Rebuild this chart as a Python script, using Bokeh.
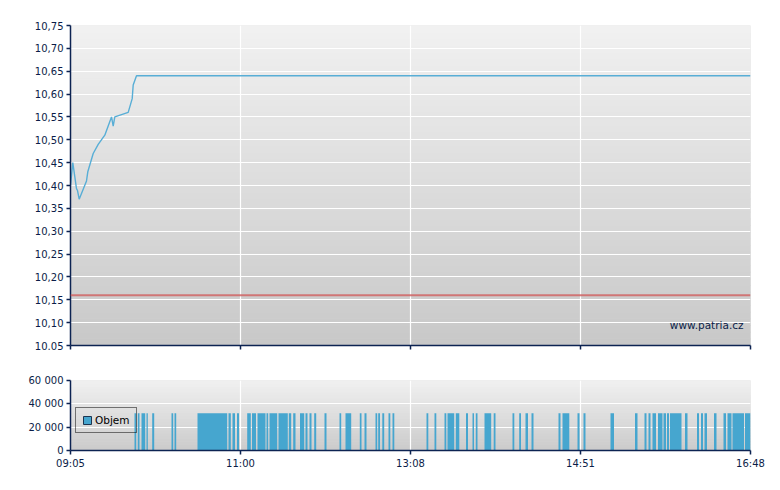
import numpy as np
from bokeh.plotting import figure
from bokeh.models import (FixedTicker, Span, Label, Legend, LegendItem,
                          ColumnDataSource, Range1d)
from bokeh.layouts import column
from bokeh.embed import file_html
from bokeh.resources import INLINE

# ---------------- data ----------------
# x axis: trading-slot position (evenly spaced time labels)
x_tick_pos = [0, 170, 340, 510, 680]
x_tick_labels = ["09:05", "11:00", "13:08", "14:51", "16:48"]

price_x = [0, 2.3, 6, 7, 8.7, 16, 17.3, 22.7, 27.7, 34.3, 41, 42.7, 44.3,
           57.7, 61.7, 62.7, 66, 680]
price_y = [10.40, 10.45, 10.393, 10.389, 10.37, 10.41, 10.43, 10.47, 10.49,
           10.51, 10.55, 10.53, 10.55, 10.56, 10.59, 10.62, 10.64, 10.64]
prev_close = 10.16

price_ticks = [10.05, 10.10, 10.15, 10.20, 10.25, 10.30, 10.35, 10.40,
               10.45, 10.50, 10.55, 10.60, 10.65, 10.70, 10.75]
price_tick_labels = ["10.05", "10,10", "10,15", "10,20", "10,25", "10,30",
                     "10,35", "10,40", "10,45", "10,50", "10,55", "10,60",
                     "10,65", "10,70", "10,75"]

vol_ticks = [0, 20000, 40000, 60000]
vol_tick_labels = ["0", "20 000", "40 000", "60 000"]

bar_start = [64, 67.3, 71, 76, 81.7, 101, 104, 127, 158, 162, 166.5, 176.7,
             181.5, 187, 196, 199, 208, 218.3, 222.7, 229.5, 235, 239,
             243.7, 254, 269, 275, 289.3, 294, 305, 307.7, 311.8, 318, 322,
             356, 364, 374, 377, 385.3, 395.5, 402, 405.3, 414, 423.2, 442,
             448.7, 455, 461, 488, 492, 507, 513, 540, 564.5, 574, 578, 582,
             587.5, 593, 596.5, 599.5, 614.5, 626.5, 630.5, 634, 643.5, 653,
             657, 662, 674.5]
bar_end = [65.7, 69, 74.7, 77.3, 83.7, 102.7, 105.7, 156.7, 160.3, 164.5,
           168.5, 180.3, 185.5, 195, 197.7, 206.7, 217.3, 220.7, 225, 233.7,
           237, 241, 245.7, 256, 270.7, 280.7, 291, 296, 306.7, 309.5, 313.7,
           319.8, 323.8, 357.8, 365.8, 375.8, 383.7, 388.8, 397.5, 403.5, 407,
           420.7, 425, 443.8, 450.5, 457.5, 463, 490, 498.8, 509, 515, 543.5,
           567, 576, 580, 585.5, 592, 595.5, 598.5, 611, 617, 628.5, 632.5,
           636.5, 646, 655.5, 661, 673.5, 680]
bar_vol = [32000, 32000, 32000, 32000, 32000, 32000, 32000, 32000, 32000, 32000,
           32000, 32000, 32000, 32000, 32000, 32000, 32000, 32000, 32000, 32000,
           32000, 32000, 32000, 32000, 32000, 32000, 32000, 32000, 32000, 32000,
           32000, 32000, 32000, 32000, 32000, 32000, 32000, 32000, 32000, 32000,
           32000, 32000, 32000, 32000, 32000, 32000, 32000, 32000, 32000, 32000,
           32000, 32000, 32000, 32000, 32000, 32000, 32000, 32000, 32000, 32000,
           32000, 32000, 32000, 32000, 32000, 32000, 32000, 32000, 32000]

# ---------------- style ----------------
FONT = "DejaVu Sans"
NAVY = "#0c2352"
TXT = "#0b1d48"
LINE_BLUE = "#58aed6"
BAR_BLUE = "#46a6cf"


def hexcol(c):
    return "#%02x%02x%02x" % tuple(int(round(v)) for v in c)


def gradient(p, x0, x1, y0, y1, c_top, c_bot, n=48):
    edges = np.linspace(y0, y1, n + 1)
    cols = []
    for i in range(n):
        t = (i + 0.5) / n  # 0 bottom -> 1 top
        cols.append(hexcol([c_bot[k] + (c_top[k] - c_bot[k]) * t for k in range(3)]))
    r = p.quad(left=x0, right=x1, bottom=edges[:-1], top=edges[1:],
               fill_color=cols, line_color=cols, line_width=1)
    r.level = "image"


def style_axis(ax):
    ax.axis_line_color = NAVY
    ax.axis_line_width = 1.5
    ax.major_tick_line_color = NAVY
    ax.major_tick_line_width = 1.5
    ax.major_tick_out = 4
    ax.major_tick_in = 0
    ax.minor_tick_line_color = None
    ax.major_label_text_font = FONT
    ax.major_label_text_font_size = "10px"
    ax.major_label_text_color = TXT
    ax.major_label_standoff = 3


# ---------------- price panel ----------------
x_range = Range1d(0, 680)
p1 = figure(frame_width=680, frame_height=320, x_range=x_range,
            y_range=Range1d(10.05, 10.75), output_backend="svg",
            toolbar_location=None, min_border_left=70, min_border_top=25,
            min_border_right=20, min_border_bottom=20)
p1.outline_line_color = None
p1.border_fill_color = "white"
p1.background_fill_color = "#dcdcdc"
gradient(p1, 0, 680, 10.05, 10.75, (241, 241, 241), (200, 200, 200))

p1.xaxis.ticker = FixedTicker(ticks=x_tick_pos)
p1.yaxis.ticker = FixedTicker(ticks=price_ticks)
p1.yaxis.major_label_overrides = dict(zip(price_ticks, price_tick_labels))
style_axis(p1.xaxis[0])
style_axis(p1.yaxis[0])
p1.xaxis.major_label_text_font_size = "0px"
p1.xaxis.major_label_text_alpha = 0
p1.xgrid.ticker = FixedTicker(ticks=x_tick_pos)
p1.ygrid.ticker = FixedTicker(ticks=price_ticks)
p1.grid.grid_line_color = "white"
p1.grid.grid_line_width = 1.2

p1.add_layout(Span(location=prev_close, dimension="width",
                   line_color="#d06565", line_width=2, line_alpha=0.85))
p1.line(price_x, price_y, line_color=LINE_BLUE, line_width=1.4)
p1.add_layout(Label(x=673, y=10.082, text="www.patria.cz", text_align="right",
                    text_baseline="bottom", text_font=FONT,
                    text_font_size="10.5px", text_color=TXT))

# ---------------- volume panel ----------------
p2 = figure(frame_width=680, frame_height=70, x_range=x_range,
            y_range=Range1d(0, 60000), output_backend="svg",
            toolbar_location=None, min_border_left=70, min_border_top=15,
            min_border_right=20, min_border_bottom=28)
p2.outline_line_color = None
p2.border_fill_color = "white"
p2.background_fill_color = "#dcdcdc"
gradient(p2, 0, 680, 0, 60000, (240, 240, 240), (203, 203, 203), n=24)

p2.xaxis.ticker = FixedTicker(ticks=x_tick_pos)
p2.xaxis.major_label_overrides = dict(zip(x_tick_pos, x_tick_labels))
p2.yaxis.ticker = FixedTicker(ticks=vol_ticks)
p2.yaxis.major_label_overrides = dict(zip(vol_ticks, vol_tick_labels))
style_axis(p2.xaxis[0])
style_axis(p2.yaxis[0])
p2.xgrid.ticker = FixedTicker(ticks=x_tick_pos)
p2.ygrid.ticker = FixedTicker(ticks=vol_ticks)
p2.grid.grid_line_color = "white"
p2.grid.grid_line_width = 1.2

vsrc = ColumnDataSource(dict(left=bar_start, right=bar_end,
                             top=bar_vol, bottom=[0] * len(bar_vol)))
p2.quad(left="left", right="right", top="top", bottom="bottom", source=vsrc,
        fill_color=BAR_BLUE, line_color=None)

# legend swatch: same data, outlined, not drawn in the plot itself
sw = p2.quad(left="left", right="right", top="top", bottom="bottom",
             source=vsrc, fill_color=BAR_BLUE, line_color="#1d3550",
             line_width=1)
sw.visible = False
legend = Legend(items=[LegendItem(label="Objem", renderers=[sw])],
                location=(5, 17), orientation="vertical", click_policy="none")
legend.border_line_color = "black"
legend.border_line_width = 1
legend.background_fill_alpha = 0
legend.label_text_font = FONT
legend.label_text_font_size = "10.5px"
legend.label_text_color = "black"
legend.glyph_width = 10
legend.glyph_height = 10
legend.label_standoff = 3
legend.padding = 6
legend.margin = 0
legend.spacing = 0
legend.label_height = 12
p2.add_layout(legend)

layout = column(p1, p2, spacing=0)
open("out.html", "w").write(file_html(layout, INLINE))
